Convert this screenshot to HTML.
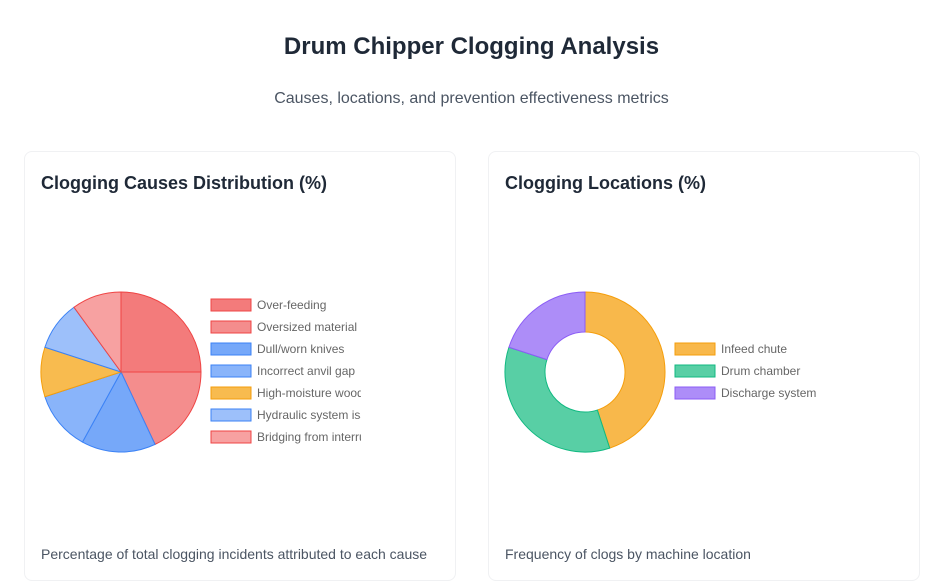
<!DOCTYPE html><html><head><style>
body{margin:0;width:943px;height:581px;background:#fff;font-family:"Liberation Sans",sans-serif;overflow:hidden;position:relative}
.t{position:absolute;left:0;width:943px;text-align:center}
.card{position:absolute;top:151px;width:430px;height:428px;border:1px solid #f0f1f3;border-radius:8px;background:#fff}
.h{position:absolute;left:16px;top:21px;font-size:18px;font-weight:bold;color:#1f2937}
.f{position:absolute;left:16px;top:394px;font-size:14px;color:#4b5563}
svg{position:absolute;left:0;top:0}
</style></head><body>
<div class="t" style="top:33px;font-size:24px;font-weight:bold;color:#1f2937">Drum Chipper Clogging Analysis</div>
<div class="t" style="top:90px;font-size:16px;color:#4b5563">Causes, locations, and prevention effectiveness metrics</div>
<div class="card" style="left:24px"><div class="h">Clogging Causes Distribution (%)</div><div class="f">Percentage of total clogging incidents attributed to each cause</div></div>
<div class="card" style="left:488px"><div class="h">Clogging Locations (%)</div><div class="f">Frequency of clogs by machine location</div></div>
<svg width="943" height="581" font-family="Liberation Sans, sans-serif" font-size="12" fill="#666">
<g stroke-width="1">
<path d="M121 372L121 292A80 80 0 0 1 201 372Z" fill="#f37b7b" stroke="#ef4444"/>
<path d="M121 372L201 372A80 80 0 0 1 155.06 444.38Z" fill="#f48d8d" stroke="#ef4444"/>
<path d="M121 372L155.06 444.38A80 80 0 0 1 82.46 442.1Z" fill="#76a8f9" stroke="#3b82f6"/>
<path d="M121 372L82.46 442.1A80 80 0 0 1 44.91 396.72Z" fill="#89b4fa" stroke="#3b82f6"/>
<path d="M121 372L44.91 396.72A80 80 0 0 1 44.91 347.28Z" fill="#f8bb4f" stroke="#f59e0b"/>
<path d="M121 372L44.91 347.28A80 80 0 0 1 73.98 307.28Z" fill="#9dc0fa" stroke="#3b82f6"/>
<path d="M121 372L73.98 307.28A80 80 0 0 1 121 292Z" fill="#f7a1a1" stroke="#ef4444"/>
</g>
<g stroke-width="1">
<rect x="211" y="299" width="40" height="12" fill="#f37b7b" stroke="#ef4444"/>
<rect x="211" y="321" width="40" height="12" fill="#f48d8d" stroke="#ef4444"/>
<rect x="211" y="343" width="40" height="12" fill="#76a8f9" stroke="#3b82f6"/>
<rect x="211" y="365" width="40" height="12" fill="#89b4fa" stroke="#3b82f6"/>
<rect x="211" y="387" width="40" height="12" fill="#f8bb4f" stroke="#f59e0b"/>
<rect x="211" y="409" width="40" height="12" fill="#9dc0fa" stroke="#3b82f6"/>
<rect x="211" y="431" width="40" height="12" fill="#f7a1a1" stroke="#ef4444"/>
</g>
<clipPath id="c"><rect x="250" y="290" width="111" height="160"/></clipPath>
<g clip-path="url(#c)">
<text x="257" y="309">Over-feeding</text>
<text x="257" y="331">Oversized material</text>
<text x="257" y="353">Dull/worn knives</text>
<text x="257" y="375">Incorrect anvil gap</text>
<text x="257" y="397">High-moisture wood</text>
<text x="257" y="419">Hydraulic system issues</text>
<text x="257" y="441">Bridging from interrupted</text>
</g>
<path d="M585 292A80 80 0 0 1 609.72 448.09L597.36 410.04A40 40 0 0 0 585 332Z" fill="#f8b84b" stroke="#f59e0b"/>
<path d="M609.72 448.09A80 80 0 0 1 508.91 347.28L546.96 359.64A40 40 0 0 0 597.36 410.04Z" fill="#58cfa5" stroke="#10b981"/>
<path d="M508.91 347.28A80 80 0 0 1 585 292L585 332A40 40 0 0 0 546.96 359.64Z" fill="#ad8df8" stroke="#8b5cf6"/>
<rect x="675" y="343" width="40" height="12" fill="#f8b84b" stroke="#f59e0b"/>
<rect x="675" y="365" width="40" height="12" fill="#58cfa5" stroke="#10b981"/>
<rect x="675" y="387" width="40" height="12" fill="#ad8df8" stroke="#8b5cf6"/>
<text x="721" y="353">Infeed chute</text>
<text x="721" y="375">Drum chamber</text>
<text x="721" y="397">Discharge system</text>
</svg>
</body></html>
